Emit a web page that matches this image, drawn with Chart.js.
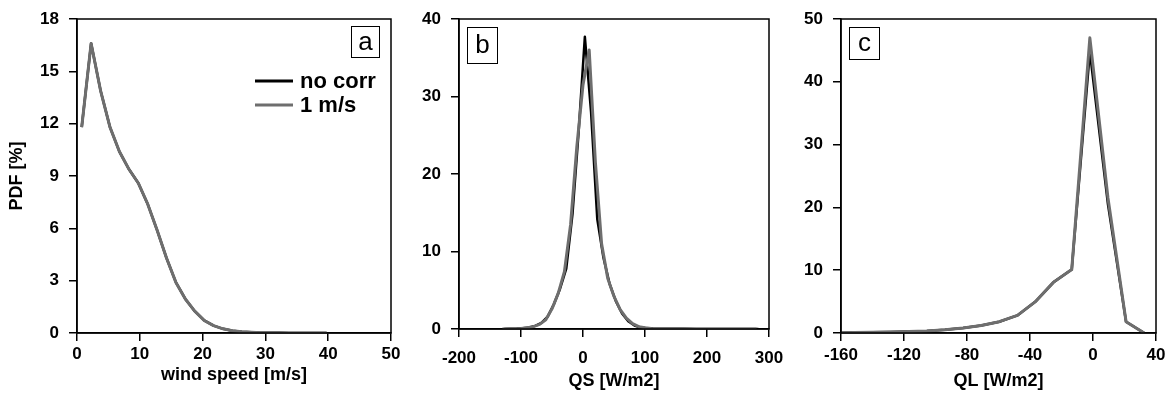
<!DOCTYPE html>
<html>
<head>
<meta charset="utf-8">
<script src="https://cdn.jsdelivr.net/npm/chart.js@4.4.1/dist/chart.umd.min.js"></script>
<style>
  body { margin: 0; background: #fff; }
  #wrap { position: relative; width: 1169px; height: 398px; }
  canvas { position: absolute; top: 0; }
</style>
</head>
<body>
<div id="wrap">
  <canvas id="windChart" width="420" height="398" style="left:0px"></canvas>
  <canvas id="qsChart" width="400" height="398" style="left:400px"></canvas>
  <canvas id="qlChart" width="389" height="398" style="left:780px"></canvas>
</div>
<script>
// (a) wind speed PDF
const windX = [0.75, 2.25, 3.75, 5.25, 6.75, 8.25, 9.75, 11.25, 12.75, 14.25, 15.75, 17.25, 18.75,
  20.25, 21.75, 23.25, 24.75, 26.25, 27.75, 29.25, 30.75, 32.25, 33.75, 35.25, 36.75, 38.25, 39.75];
const windNoCorr = [11.8, 16.6, 13.9, 11.8, 10.4, 9.4, 8.6, 7.4, 5.9, 4.3, 2.9, 1.95, 1.25,
  0.72, 0.42, 0.24, 0.13, 0.07, 0.04, 0.02, 0.01, 0.01, 0, 0, 0, 0, 0];
const wind1ms = [11.8, 16.6, 13.9, 11.8, 10.4, 9.4, 8.6, 7.4, 5.9, 4.3, 2.9, 1.95, 1.25,
  0.72, 0.42, 0.24, 0.13, 0.07, 0.04, 0.02, 0.01, 0.01, 0, 0, 0, 0, 0];

// (b) sensible heat flux PDF
const qsXNoCorr = [-127, -117, -107, -97, -87, -77, -67, -57, -47, -37, -27, -17, -7, 3, 13, 23, 33, 43,
  53, 63, 73, 83, 93, 103, 113, 123, 143, 163, 183, 203, 223, 243, 263, 283];
const qsNoCorr = [0, 0.02, 0.05, 0.1, 0.2, 0.4, 0.8, 1.6, 3.2, 5.2, 7.8, 14.8, 25.5, 37.7, 28.0, 14.2, 9.2, 5.8,
  3.6, 2.0, 1.0, 0.45, 0.2, 0.1, 0.05, 0.03, 0.02, 0.02, 0.01, 0.01, 0.01, 0.01, 0.01, 0];
const qsX1ms = [-130, -120, -110, -100, -90, -80, -70, -60, -50, -40, -30, -20, -10, 0, 10, 20, 30, 40,
  50, 60, 70, 80, 90, 100, 110, 120, 140, 160, 180, 200, 220, 240, 260, 280];
const qs1ms = [0, 0.02, 0.04, 0.08, 0.15, 0.3, 0.6, 1.2, 2.6, 4.6, 7.4, 13.5, 23.5, 31.5, 36.0, 21.5, 11.0, 6.5,
  4.2, 2.5, 1.4, 0.7, 0.3, 0.15, 0.07, 0.04, 0.02, 0.02, 0.01, 0.01, 0.01, 0.01, 0.01, 0];

// (c) latent heat flux PDF
const qlX = [-163, -151.5, -140, -128.5, -117, -105.5, -94, -82.5, -71, -59.5, -48, -36.5, -25, -13.5, -2, 9.5, 21, 32.5];
const qlNoCorr = [0.05, 0.07, 0.1, 0.15, 0.22, 0.32, 0.5, 0.8, 1.2, 1.8, 2.8, 5.0, 8.1, 10.1, 44.8, 20.5, 1.8, 0];
const ql1ms = [0.05, 0.07, 0.1, 0.15, 0.22, 0.32, 0.5, 0.8, 1.2, 1.8, 2.8, 5.0, 8.1, 10.1, 47.0, 21.5, 1.8, 0];

const seriesNames = ["no corr", "1 m/s"];
const BLACK = "#000000";
const GREY = "#6e6e6e";
const FONT = "'Liberation Sans', Arial, Helvetica, sans-serif";

Chart.defaults.font.family = FONT;
Chart.defaults.color = "#000";

function points(xs, ys) {
  return xs.map((x, i) => ({ x: x, y: ys[i] }));
}

// frame, panel letter and (optional) legend
const panelDecor = {
  id: "panelDecor",
  afterDraw(chart, args, opts) {
    const { ctx, chartArea: a } = chart;
    ctx.save();
    ctx.strokeStyle = "#000";
    ctx.lineWidth = 1.5;
    ctx.strokeRect(a.left, a.top, a.right - a.left, a.bottom - a.top);

    const b = opts.box;
    const bx = b.right != null ? a.right - b.right - b.w : a.left + b.left;
    const by = a.top + b.top;
    ctx.fillStyle = "#fff";
    ctx.fillRect(bx, by, b.w, b.h);
    ctx.lineWidth = 1;
    ctx.strokeRect(bx + 0.5, by + 0.5, b.w, b.h);
    ctx.fillStyle = "#000";
    ctx.font = "26px " + FONT;
    ctx.textAlign = "center";
    ctx.textBaseline = "middle";
    ctx.fillText(opts.letter, bx + b.w / 2 + 0.5, by + b.h / 2 + 1);

    if (opts.legend) {
      const L = opts.legend;
      ctx.font = "bold 22px " + FONT;
      ctx.textAlign = "left";
      [BLACK, GREY].forEach((c, i) => {
        const y = L.y + i * L.gap;
        ctx.strokeStyle = c;
        ctx.lineWidth = 3;
        ctx.beginPath();
        ctx.moveTo(L.x0, y);
        ctx.lineTo(L.x1, y);
        ctx.stroke();
        ctx.fillStyle = "#000";
        ctx.fillText(seriesNames[i], L.x1 + 7, y + 1);
      });
    }
    ctx.restore();
  },
};

function makeChart(id, cfg) {
  return new Chart(document.getElementById(id), {
    type: "scatter",
    data: {
      datasets: [
        { label: seriesNames[1], data: cfg.grey, borderColor: GREY, borderWidth: 3, order: 0 },
        { label: seriesNames[0], data: cfg.black, borderColor: BLACK, borderWidth: 2.5, order: 1 },
      ].map((d) => Object.assign(d, {
        showLine: true, pointRadius: 0, fill: false, tension: 0, borderJoinStyle: "round",
      })),
    },
    options: {
      responsive: false,
      animation: false,
      layout: { padding: { top: 19, right: cfg.padRight, bottom: 0, left: 0 } },
      plugins: {
        legend: { display: false },
        tooltip: { enabled: false },
        panelDecor: { letter: cfg.letter, box: cfg.box, legend: cfg.legend },
      },
      scales: {
        x: {
          type: "linear",
          min: cfg.xMin,
          max: cfg.xMax,
          ticks: { stepSize: cfg.xStep, maxRotation: 0, autoSkip: false, padding: cfg.xTickPad,
            font: { size: 17, weight: "bold" } },
          grid: { drawOnChartArea: false, drawTicks: true, tickLength: 8, color: "#000", lineWidth: 1.5 },
          border: { display: true, color: "#000", width: 1.5 },
          title: { display: true, text: cfg.xTitle, font: { size: 18, weight: "bold" },
            padding: { top: 0, bottom: cfg.xTitlePad } },
          afterFit: (s) => { s.height = cfg.xHeight; s.paddingLeft = 0; s.paddingRight = 0; },
        },
        y: {
          type: "linear",
          min: 0,
          max: cfg.yMax,
          ticks: { stepSize: cfg.yStep, padding: 10, font: { size: 17, weight: "bold" } },
          grid: { drawOnChartArea: false, drawTicks: true, tickLength: 8, color: "#000", lineWidth: 1.5 },
          border: { display: true, color: "#000", width: 1.5 },
          title: { display: !!cfg.yTitle, text: cfg.yTitle, font: { size: 18, weight: "bold" },
            padding: { top: 6, bottom: 0 } },
          afterFit: (s) => { s.width = cfg.yWidth; s.paddingTop = 0; s.paddingBottom = 0; },
        },
      },
    },
    plugins: [panelDecor],
  });
}

makeChart("windChart", {
  black: points(windX, windNoCorr), grey: points(windX, wind1ms),
  xMin: 0, xMax: 50, xStep: 10, yMax: 18, yStep: 3,
  xTitle: "wind speed [m/s]", yTitle: "PDF [%]",
  yWidth: 77, xHeight: 65, padRight: 29, xTickPad: 3, xTitlePad: 12,
  letter: "a", box: { right: 12, top: 7, w: 28, h: 31 },
  legend: { x0: 255, x1: 293, y: 81, gap: 24 },
});

makeChart("qsChart", {
  black: points(qsXNoCorr, qsNoCorr), grey: points(qsX1ms, qs1ms),
  xMin: -200, xMax: 300, xStep: 100, yMax: 40, yStep: 10,
  xTitle: "QS [W/m2]", yTitle: "",
  yWidth: 59, xHeight: 69, padRight: 31, xTickPad: 11, xTitlePad: 6,
  letter: "b", box: { left: 8, top: 8, w: 30, h: 36 },
});

makeChart("qlChart", {
  black: points(qlX, qlNoCorr), grey: points(qlX, ql1ms),
  xMin: -160, xMax: 40, xStep: 40, yMax: 50, yStep: 10,
  xTitle: "QL [W/m2]", yTitle: "",
  yWidth: 61, xHeight: 65, padRight: 13, xTickPad: 4, xTitlePad: 6,
  letter: "c", box: { left: 8, top: 8, w: 30, h: 32 },
});
</script>
</body>
</html>
